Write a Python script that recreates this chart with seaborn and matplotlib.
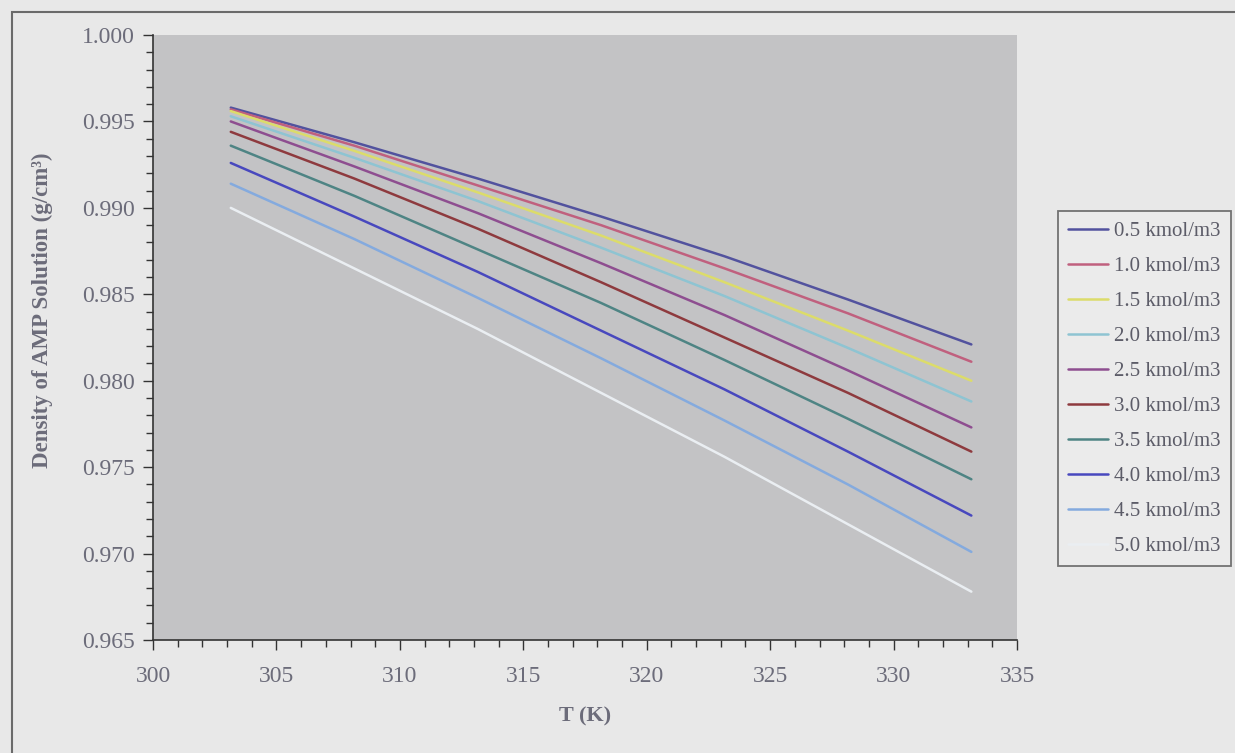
import numpy as np
import pandas as pd
import matplotlib
matplotlib.use("Agg")
import matplotlib.pyplot as plt
import seaborn as sns
from matplotlib.ticker import MultipleLocator, FormatStrFormatter

# temperatures (K) and densities
temps = [303.15, 308.15, 313.15, 318.15, 323.15, 328.15, 333.15]
labels = ["0.5 kmol/m3", "1.0 kmol/m3", "1.5 kmol/m3", "2.0 kmol/m3", "2.5 kmol/m3",
          "3.0 kmol/m3", "3.5 kmol/m3", "4.0 kmol/m3", "4.5 kmol/m3", "5.0 kmol/m3"]
d05 = [0.9958, 0.9938, 0.9917, 0.9895, 0.9872, 0.9847, 0.9821]
d10 = [0.9957, 0.9936, 0.9913, 0.9890, 0.9865, 0.9839, 0.9811]
d15 = [0.9956, 0.9933, 0.9909, 0.9884, 0.9857, 0.9829, 0.9800]
d20 = [0.9953, 0.9929, 0.9904, 0.9877, 0.9849, 0.9819, 0.9788]
d25 = [0.9950, 0.9924, 0.9897, 0.9868, 0.9838, 0.9806, 0.9773]
d30 = [0.9944, 0.9917, 0.9888, 0.9857, 0.9825, 0.9793, 0.9759]
d35 = [0.9936, 0.9907, 0.9876, 0.9845, 0.9812, 0.9778, 0.9743]
d40 = [0.9926, 0.9895, 0.9863, 0.9829, 0.9795, 0.9759, 0.9722]
d45 = [0.9914, 0.9882, 0.9848, 0.9813, 0.9777, 0.9740, 0.9701]
d50 = [0.9900, 0.9865, 0.9830, 0.9793, 0.9756, 0.9717, 0.9678]
colors = ["#52529e", "#c0607e", "#dcdc6a", "#8ec4d2", "#8e4e90",
          "#8e3a3e", "#4e8484", "#4848be", "#84aade", "#eaeef2"]

series = [d05, d10, d15, d20, d25, d30, d35, d40, d45, d50]
rows = []
for lab, vals in zip(labels, series):
    for t, v in zip(temps, vals):
        rows.append({"T": t, "density": v, "conc": lab})
df = pd.DataFrame(rows)

sns.set_style("white")
plt.rcParams["font.family"] = ["Liberation Serif", "DejaVu Serif"]

fig = plt.figure(figsize=(12.35, 7.53), dpi=100)
fig.patch.set_facecolor("#e8e8e8")
ax = fig.add_axes([0.1239, 0.150, 0.6996, 0.8035])
ax.set_facecolor("#c3c3c5")

sns.lineplot(data=df, x="T", y="density", hue="conc", palette=colors,
             linewidth=1.8, ax=ax, legend=False)

ax.set_xlim(300, 335)
ax.set_ylim(0.965, 1.000)
ax.xaxis.set_major_locator(MultipleLocator(5))
ax.xaxis.set_minor_locator(MultipleLocator(1))
ax.yaxis.set_major_locator(MultipleLocator(0.005))
ax.yaxis.set_minor_locator(MultipleLocator(0.001))
ax.yaxis.set_major_formatter(FormatStrFormatter("%.3f"))
ax.tick_params(axis="both", which="both", bottom=True, left=True)
ax.tick_params(axis="both", which="major", direction="out", length=7, width=1,
               color="#333333", labelsize=17, labelcolor="#6c6c7a")
ax.tick_params(axis="both", which="minor", direction="out", length=5, width=1,
               color="#333333")
ax.tick_params(axis="x", which="major", pad=12)
ax.tick_params(axis="y", which="major", pad=6)
for s in ["top", "right"]:
    ax.spines[s].set_visible(False)
for s in ["left", "bottom"]:
    ax.spines[s].set_color("#333333")
    ax.spines[s].set_linewidth(1.2)

ax.set_xlabel("T (K)", fontsize=16, fontweight="bold", color="#6c6c7a", labelpad=14)
ax.set_ylabel("Density of AMP Solution (g/cm³)", fontsize=16.5, fontweight="bold",
              color="#6c6c7a")
ax.yaxis.set_label_coords(-0.116, 0.545)

handles = [plt.Line2D([0], [0], color=c, lw=1.8) for c in colors]
leg = ax.legend(handles, labels, loc="upper left", bbox_to_anchor=(1.0475, 0.709),
                frameon=True, fancybox=False, fontsize=15, handlelength=1.9,
                handletextpad=0.3, labelspacing=0.74, borderpad=0.5, borderaxespad=0)
leg.get_frame().set_facecolor("#ececec")
leg.get_frame().set_edgecolor("#555555")
leg.get_frame().set_linewidth(1.3)
for t in leg.get_texts():
    t.set_color("#5c5c68")

# outer chart border
fig.patches.append(plt.Rectangle((12 / 1235, -0.01), 1.0, 1 - 12 / 753 + 0.01,
                                 transform=fig.transFigure, fill=False,
                                 edgecolor="#6a6a6a", linewidth=1.5))

fig.savefig("out.png", dpi=100, facecolor=fig.get_facecolor())
